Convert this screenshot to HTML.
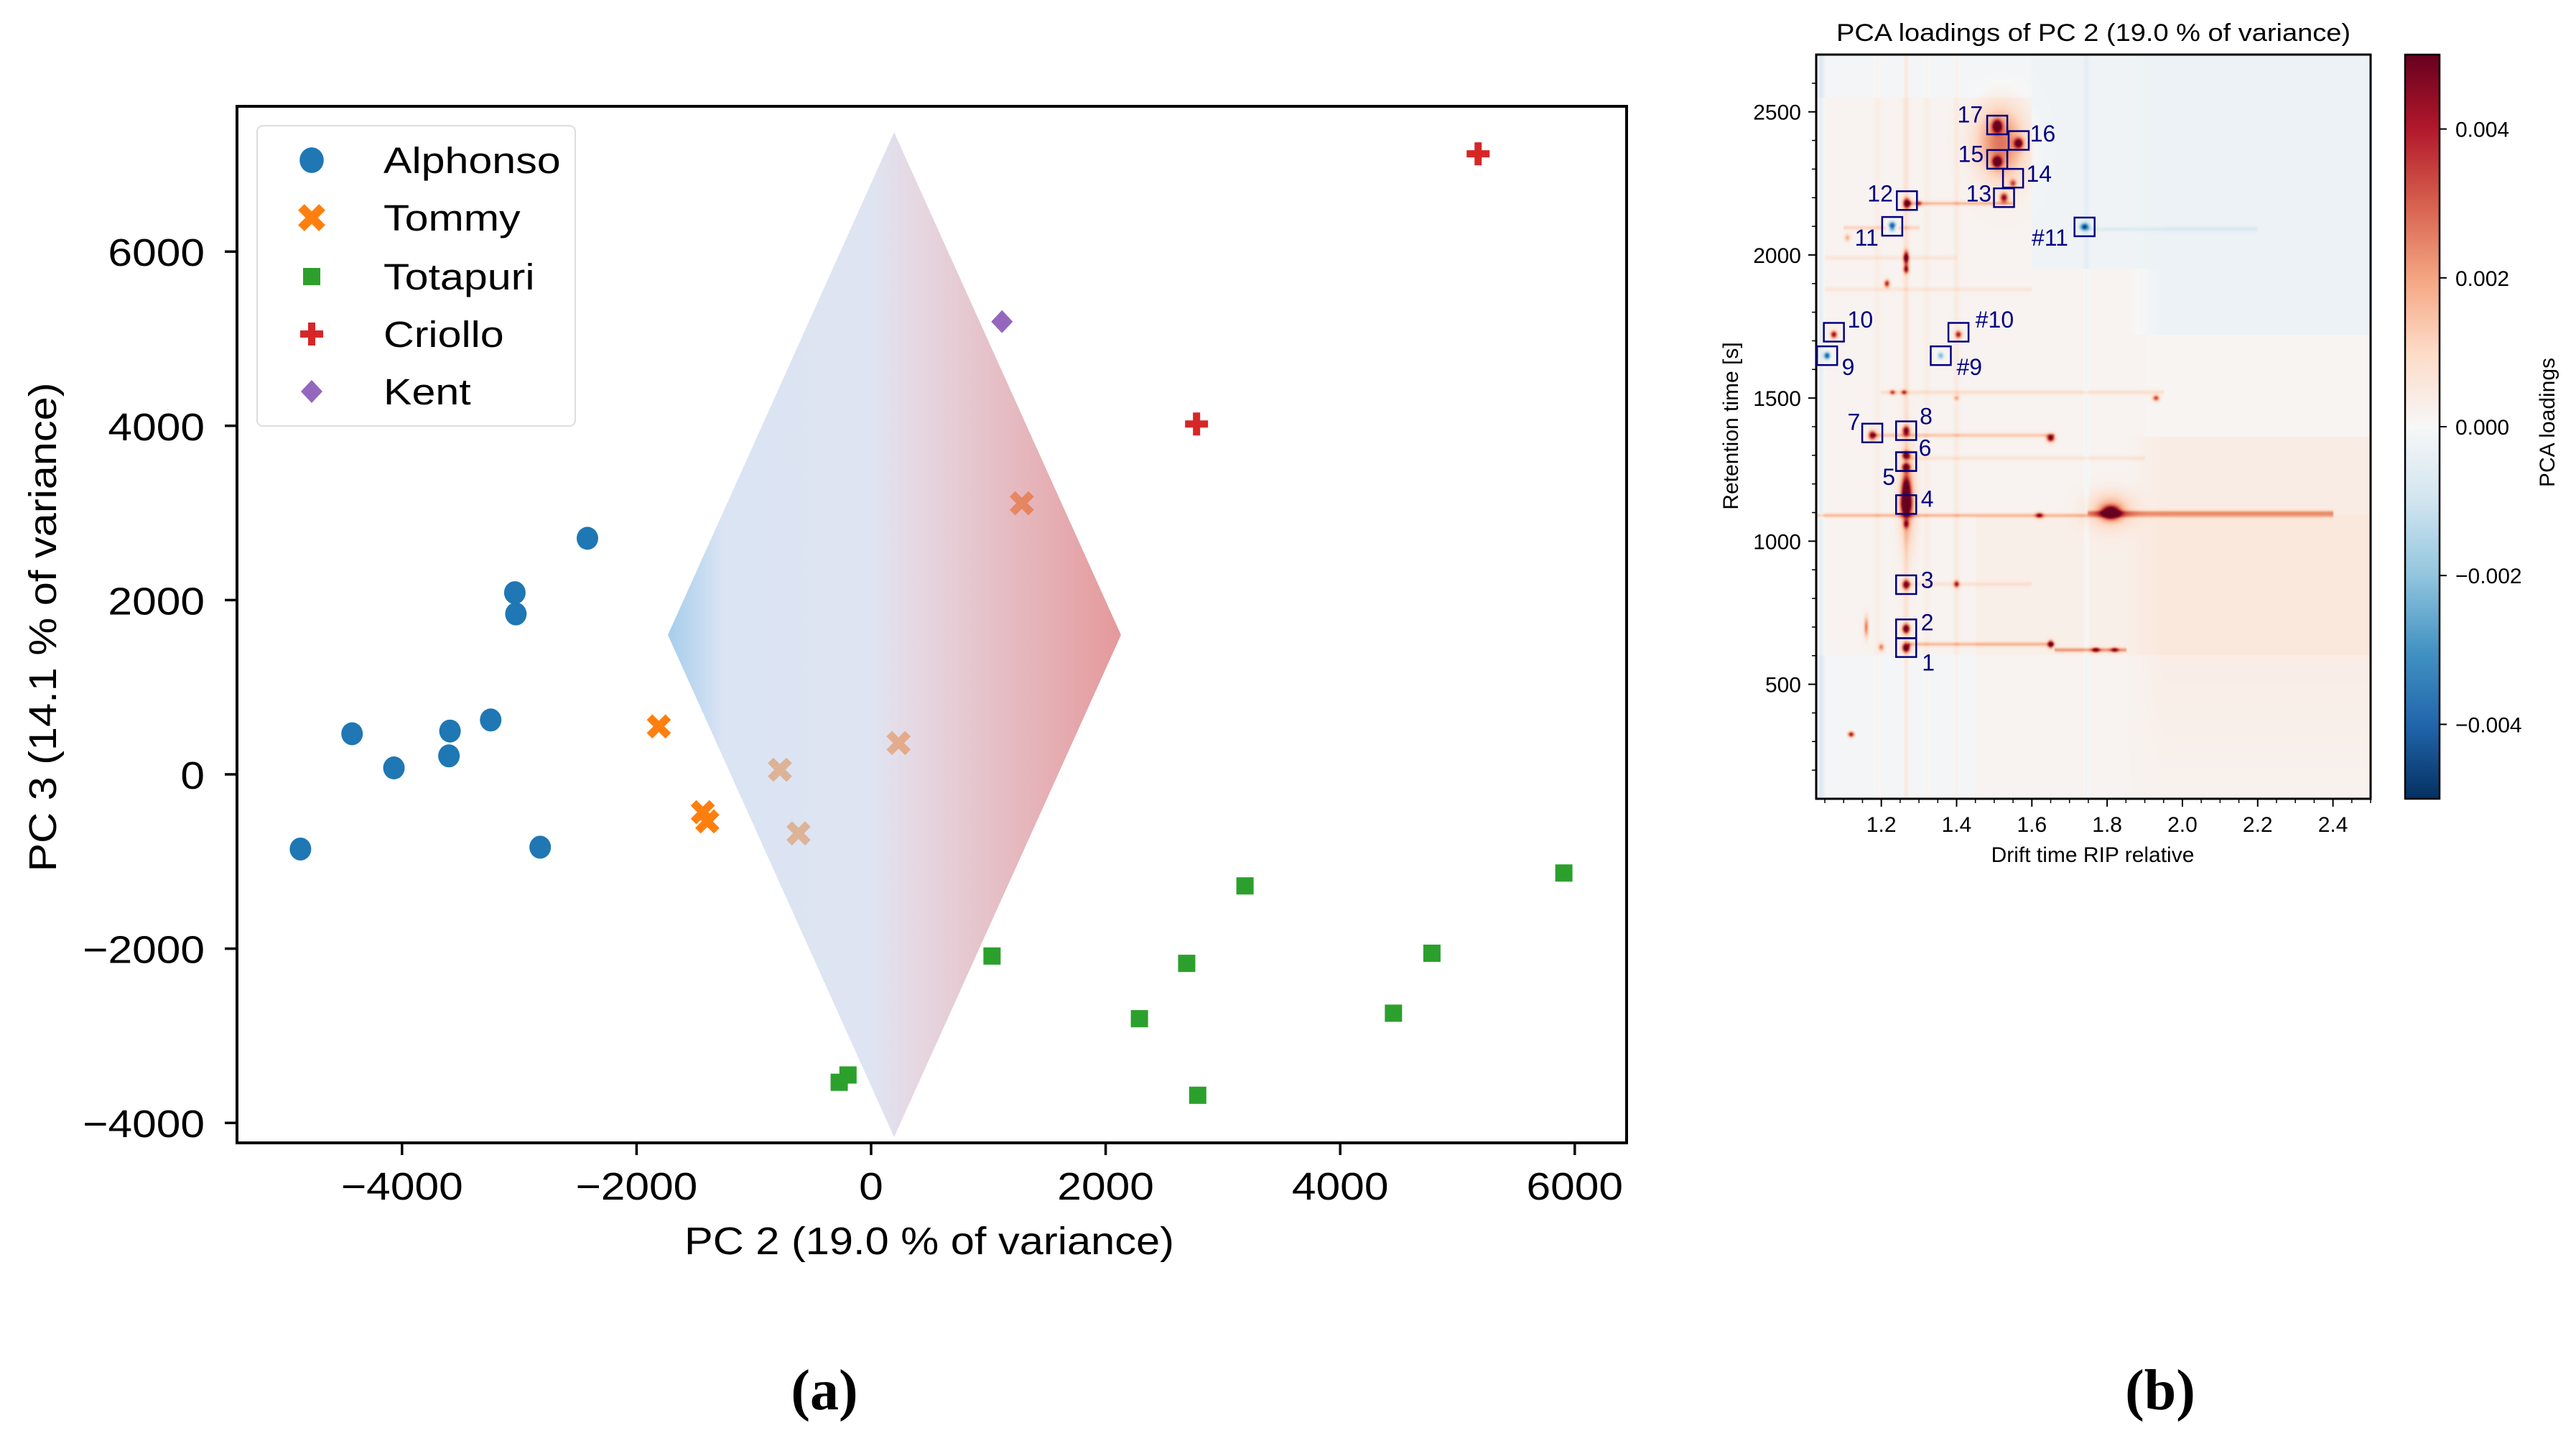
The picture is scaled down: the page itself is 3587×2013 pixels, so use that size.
<!DOCTYPE html>
<html><head><meta charset="utf-8"><style>
html,body{margin:0;padding:0;background:#fff;}
#wrap{position:relative;width:3587px;height:2013px;overflow:hidden;}
#hm{position:absolute;left:2529px;top:76px;width:772px;height:1036px;}
#svg{position:absolute;left:0;top:0;}
text{font-family:"Liberation Sans",sans-serif;}
</style></head><body>
<div id="wrap">
<canvas id="hm" width="386" height="518"></canvas>
<svg id="svg" width="3587" height="2013" xmlns="http://www.w3.org/2000/svg">
<defs>
<linearGradient id="dg" x1="0" x2="1" y1="0" y2="0">
<stop offset="0" stop-color="#6eaee0"/><stop offset="0.12" stop-color="#c3d3ec"/><stop offset="0.45" stop-color="#cbd4ea"/><stop offset="0.55" stop-color="#d6bfcf"/><stop offset="1" stop-color="#d55a5e"/>
</linearGradient>
<linearGradient id="cbg" x1="0" x2="0" y1="1" y2="0">
<stop offset="0" stop-color="#053061"/><stop offset="0.1" stop-color="#2166ac"/><stop offset="0.2" stop-color="#4393c3"/><stop offset="0.3" stop-color="#92c5de"/><stop offset="0.4" stop-color="#d1e5f0"/><stop offset="0.5" stop-color="#f7f7f7"/><stop offset="0.6" stop-color="#fddbc7"/><stop offset="0.7" stop-color="#f4a582"/><stop offset="0.8" stop-color="#d6604d"/><stop offset="0.9" stop-color="#b2182b"/><stop offset="1" stop-color="#67001f"/>
</linearGradient>
</defs>
<g id="left"></g>
<g id="right"></g>
<text x="1148" y="1962" font-size="80" font-weight="bold" text-anchor="middle" style="font-family:'Liberation Serif',serif">(a)</text>
<text x="3008" y="1962" font-size="80" font-weight="bold" text-anchor="middle" style="font-family:'Liberation Serif',serif">(b)</text>
</svg>
</div>
<script>
// ---------- Panel (a) data ----------
const groups = ["Alphonso","Tommy","Totapuri","Criollo","Kent"];
const groupColors = ["#1f77b4","#ff7f0e","#2ca02c","#d62728","#9467bd"];
const alphonsoX = [-4866,-4426,-4069,-3591,-3600,-3244,-3038,-3029,-2822,-2419];
const alphonsoY = [-857,466,74,497,212,624,2085,1841,-836,2709];
const tommyX = [-1810,-1435,-1397,-778,-619,234,1285];
const tommyY = [550,-434,-540,53,-677,360,3111];
const totapuriX = [-272,-197,1031,2288,2691,2785,3188,4454,4782,5907];
const totapuriY = [-3534,-3450,-2085,-2804,-2169,-3683,-1280,-2741,-2053,-1132];
const criolloX = [2775,5176];
const criolloY = [4021,7122];
const kentX = [1116];
const kentY = [5196];
const xTicks = [-4000,-2000,0,2000,4000,6000];
const yTicks = [-4000,-2000,0,2000,4000,6000];
const diamondX = [196,2131,196,-1733];
const diamondY = [7370,1600,-4163,1600];

// ---------- Panel (b) data ----------
const boxLabels = ["1","2","3","4","5","6","7","8","9","10","#9","#10","11","12","13","14","15","16","17","#11"];
const boxDrift = [1.266,1.266,1.266,1.266,1.266,1.266,1.176,1.266,1.056,1.074,1.358,1.405,1.229,1.268,1.526,1.550,1.508,1.565,1.508,1.740];
const boxRt = [628,694,848,1128,1278,1278,1378,1386,1648,1730,1648,1730,2100,2190,2200,2268,2334,2400,2454,2098];
const labelDrift = [1.325,1.322,1.322,1.322,1.220,1.316,1.127,1.319,1.112,1.144,1.434,1.501,1.161,1.197,1.459,1.619,1.438,1.629,1.436,1.648];
const labelRt = [576,716,864,1148,1224,1326,1416,1436,1608,1774,1608,1774,2060,2214,2214,2284,2352,2424,2490,2060];
const peakDrift = [1.266,1.266,1.266,1.266,1.266,1.266,1.176,1.266,1.056,1.074,1.358,1.405,1.229,1.268,1.526,1.550,1.508,1.565,1.508,1.740,
  1.81,1.65,1.65,1.77,1.82,1.93,1.62,1.266,1.266,1.215,1.12,1.40,1.266,1.266,1.20,1.16,1.30,1.23,1.26,1.40,1.11,1.50,1.27,1.81,1.53];
const peakRt = [628,694,848,1128,1258,1300,1370,1386,1648,1722,1648,1722,2100,2180,2200,2250,2325,2390,2450,2098,
  1100,1360,640,620,620,1500,1090,1990,1950,1900,325,850,1180,1060,630,700,2180,1520,1520,1500,2060,2400,1150,1110,2380];
const peakAmp = [1.2,1.1,1.0,1.3,1.0,1.0,1.0,0.9,-0.9,0.9,-0.5,0.8,-1.0,1.1,0.9,0.6,1.2,1.0,1.2,-0.9,
  1.3,1.0,1.0,0.7,0.6,0.7,0.7,1.0,0.8,0.8,0.9,0.7,0.9,0.6,0.5,0.5,0.5,0.6,0.6,0.35,0.35,0.25,0.35,0.35,0.3];
const peakSd = [0.007,0.007,0.007,0.009,0.007,0.007,0.007,0.007,0.006,0.006,0.006,0.006,0.007,0.007,0.007,0.006,0.008,0.008,0.008,0.008,
  0.015,0.007,0.005,0.007,0.007,0.006,0.007,0.005,0.005,0.005,0.006,0.005,0.008,0.005,0.005,0.004,0.005,0.005,0.005,0.005,0.005,0.04,0.015,0.04,0.04];
const peakSdRt = [11,11,11,25,9,9,11,11,9,9,9,9,11,12,11,9,12,12,14,9,
  14,9,9,6,6,7,7,16,10,9,7,9,30,10,9,25,7,6,6,6,9,80,120,40,90];
const streakRt = [1090,1100,2180,1370,640,620,1520,1290,2095,850,2090,1880,1990];
const streakD0 = [1.03,1.75,1.27,1.18,1.27,1.66,1.20,1.27,1.10,1.27,1.75,1.05,1.05];
const streakD1 = [2.40,2.40,1.55,1.66,1.66,1.85,1.95,1.90,1.30,1.60,2.20,1.60,1.40];
const streakAmp = [0.3,0.35,0.3,0.25,0.3,0.4,0.15,0.12,0.2,0.12,-0.1,0.1,0.1];
const vstreakDrift = [1.266,1.40,1.745,1.04,1.19,1.32];
const vstreakAmp = [0.12,0.06,-0.06,-0.12,0.04,0.04];
const cbTicks = [-0.004,-0.002,0,0.002,0.004];
const hxTicks = [1.2,1.4,1.6,1.8,2.0,2.2,2.4];
const hyTicks = [500,1000,1500,2000,2500];

const NS = "http://www.w3.org/2000/svg";
function mk(parent, tag, attrs){const e=document.createElementNS(NS,tag);for(const k in attrs)e.setAttribute(k,attrs[k]);parent.appendChild(e);return e;}

// ---------- Panel (a) ----------
const L = document.getElementById('left');
const xS = v => 1213 + v*0.16330;
const yS = v => 1078 - v*0.1213;
const AX0=330, AX1=2265, AY0=148, AY1=1591;

function marker(g, type, cx, cy, color, name, big){
  let e; const k = big?1.12:1;
  if(type===0){ e=mk(g,'ellipse',{cx:cx,cy:cy,rx:15*k,ry:16*k,fill:color}); }
  else if(type===1){ const a=13*k; e=mk(g,'path',{d:`M${cx-a},${cy-a}L${cx+a},${cy+a}M${cx+a},${cy-a}L${cx-a},${cy+a}`,stroke:color,'stroke-width':11*k,fill:'none'}); }
  else if(type===2){ e=mk(g,'rect',{x:cx-12,y:cy-12,width:24,height:24,fill:color}); }
  else if(type===3){ e=mk(g,'path',{d:`M${cx-16},${cy}L${cx+16},${cy}M${cx},${cy-16}L${cx},${cy+16}`,stroke:color,'stroke-width':10,fill:'none'}); }
  else { e=mk(g,'path',{d:`M${cx},${cy-16}L${cx+15},${cy}L${cx},${cy+16}L${cx-15},${cy}Z`,fill:color}); }
  
  
  return e;
}
const seriesX=[alphonsoX,tommyX,totapuriX,criolloX,kentX];
const seriesY=[alphonsoY,tommyY,totapuriY,criolloY,kentY];
for(let s=0;s<5;s++){
  const g=mk(L,'g',{});
  
  
  for(let i=0;i<seriesX[s].length;i++){
    marker(g,s,xS(seriesX[s][i]),yS(seriesY[s][i]),groupColors[s],groups[s].toLowerCase()+'-point',false);
  }
}
{
  let d='';
  for(let i=0;i<4;i++) d+=(i?'L':'M')+xS(diamondX[i])+','+yS(diamondY[i]);
  const p=mk(L,'path',{d:d+'Z',fill:'url(#dg)','fill-opacity':0.62});
  
  
}
{
  const r=mk(L,'rect',{x:AX0,y:AY0,width:AX1-AX0,height:AY1-AY0,fill:'none',stroke:'#000','stroke-width':4});
  
  
}
function stretch(t,f){try{const w=t.getComputedTextLength();t.setAttribute('textLength',w*f);t.setAttribute('lengthAdjust','spacingAndGlyphs');}catch(e){}}
function lab(v){return (v<0?'\u2212':'')+Math.abs(v);}
xTicks.forEach(v=>{
  const x=xS(v);
  const l=mk(L,'line',{x1:x,x2:x,y1:AY1,y2:AY1+17,stroke:'#000','stroke-width':3.5});
  
  
  const t=mk(L,'text',{x:x,y:1670,'font-size':54,'text-anchor':'middle'});
  t.textContent=lab(v);
  
  
  stretch(t,1.12);
});
yTicks.forEach(v=>{
  const y=yS(v);
  const l=mk(L,'line',{x1:AX0-17,x2:AX0,y1:y,y2:y,stroke:'#000','stroke-width':3.5});
  
  
  const t=mk(L,'text',{x:285,y:y+20,'font-size':54,'text-anchor':'end'});
  t.textContent=lab(v);
  
  
  stretch(t,1.12);
});
{
  const t=mk(L,'text',{x:1294,y:1746,'font-size':54,'text-anchor':'middle',textLength:682,lengthAdjust:'spacingAndGlyphs'});
  t.textContent='PC 2 (19.0 % of variance)';
  
  
  const t2=mk(L,'text',{x:0,y:0,'font-size':54,'text-anchor':'middle',textLength:681,lengthAdjust:'spacingAndGlyphs',transform:'translate(78,873) rotate(-90)'});
  t2.textContent='PC 3 (14.1 % of variance)';
  
  
}
{
  const g=mk(L,'g',{});
  
  
  mk(g,'rect',{x:358,y:175,width:443,height:418,rx:8,fill:'#fff','fill-opacity':0.85,stroke:'#dddddd','stroke-width':2});
  const rows=[223,303,385,465,545];
  for(let s=0;s<5;s++){
    marker(g,s,434,rows[s],groupColors[s],'legend-marker-'+groups[s].toLowerCase(),true);
    const t=mk(g,'text',{x:534,y:rows[s]+18,'font-size':51});
    t.textContent=groups[s];
    
    
    stretch(t,1.16);
  }
}

// ---------- Panel (b) ----------
const R=document.getElementById('right');
const HX0=2529,HX1=3301,HY0=76,HY1=1112;
const D0=1.027,D1=2.5,T0=100,T1=2700;
const hx=d=>HX0+(d-D0)/(D1-D0)*(HX1-HX0);
const hy=t=>HY1-(t-T0)/(T1-T0)*(HY1-HY0);
const stops=[[5,48,97],[33,102,172],[67,147,195],[146,197,222],[209,229,240],[247,247,247],[253,219,199],[244,165,130],[214,96,77],[178,24,43],[103,0,31]];
function cmap(v){v=Math.max(-1,Math.min(1,v));const f=(v+1)/2*10;const i=Math.min(9,Math.floor(f));const u=f-i;const a=stops[i],b=stops[i+1];return [a[0]+(b[0]-a[0])*u,a[1]+(b[1]-a[1])*u,a[2]+(b[2]-a[2])*u];}
function bg(d,t){
  let right;
  if(t>1720) right=-0.06; else if(t>1365) right=0.02; else if(t>1090) right=0.08; else if(t>600) right=0.11; else right=0.07-0.03*(600-t)/500;
  let left=0.03;
  if(t<600&&d<1.45) left=-0.02;
  if(t>2550) left=-0.02;
  if(d>1.6&&t>1950) left=-0.04;
  if(t>600&&t<1090&&d>1.45) left=0.06;
  const w=Math.max(0,Math.min(1,(d-1.85)/0.1));
  return left*(1-w)+right*w;
}
{
  const cv=document.getElementById('hm');const ctx=cv.getContext('2d');
  const W=cv.width,H=cv.height;const img=ctx.createImageData(W,H);
  for(let py=0;py<H;py++){
    const t=T1-(py+0.5)/H*(T1-T0);
    for(let px=0;px<W;px++){
      const d=D0+(px+0.5)/W*(D1-D0);
      let v=bg(d,t);
      for(let k=0;k<peakDrift.length;k++){
        const a=(d-peakDrift[k])/peakSd[k], b=(t-peakRt[k])/peakSdRt[k];
        const q=a*a+b*b; if(q<30) v+=peakAmp[k]*Math.exp(-q/2);
      }
      for(let k=0;k<streakRt.length;k++){
        if(d>=streakD0[k]&&d<=streakD1[k]){const b=(t-streakRt[k])/5;if(b*b<30)v+=streakAmp[k]*Math.exp(-b*b/2);}
      }
      for(let k=0;k<vstreakDrift.length;k++){
        const a=(d-vstreakDrift[k])/0.005;if(a*a<30)v+=vstreakAmp[k]*Math.exp(-a*a/2);
      }
      const c=cmap(v);const o=(py*W+px)*4;
      img.data[o]=c[0];img.data[o+1]=c[1];img.data[o+2]=c[2];img.data[o+3]=255;
    }
  }
  ctx.putImageData(img,0,0);
}
{
  const r=mk(R,'rect',{x:HX0,y:HY0,width:HX1-HX0,height:HY1-HY0,fill:'none',stroke:'#000','stroke-width':3});
  
  
}
for(let i=0;i<boxLabels.length;i++){
  const b=mk(R,'rect',{x:hx(boxDrift[i])-14,y:hy(boxRt[i])-13,width:28,height:26,fill:'none',stroke:'#000080','stroke-width':2.5});
  
  
  const t=mk(R,'text',{x:hx(labelDrift[i]),y:hy(labelRt[i])+11,'font-size':32,'text-anchor':'middle',fill:'#000080'});
  t.textContent=boxLabels[i];
  
  
}
hxTicks.forEach(v=>{
  const x=hx(v);
  const l=mk(R,'line',{x1:x,x2:x,y1:HY1,y2:HY1+11,stroke:'#000','stroke-width':2});
  
  
  const t=mk(R,'text',{x:x,y:1158,'font-size':30,'text-anchor':'middle'});
  t.textContent=v.toFixed(1);
  
  
});
for(let v=1.05;v<2.5;v+=0.05){
  if(Math.abs(v*5-Math.round(v*5))<1e-6) continue;
  const x=hx(v);
  const l=mk(R,'line',{x1:x,x2:x,y1:HY1,y2:HY1+6,stroke:'#000','stroke-width':1.5});
  
  
}
hyTicks.forEach(v=>{
  const y=hy(v);
  const l=mk(R,'line',{x1:HX0-11,x2:HX0,y1:y,y2:y,stroke:'#000','stroke-width':2});
  
  
  const t=mk(R,'text',{x:2508,y:y+11,'font-size':30,'text-anchor':'end'});
  t.textContent=v;
  
  
});
for(let v=200;v<=2600;v+=100){
  if(v%500===0) continue;
  const y=hy(v);
  const l=mk(R,'line',{x1:HX0-6,x2:HX0,y1:y,y2:y,stroke:'#000','stroke-width':1.5});
  
  
}
{
  const t=mk(R,'text',{x:2915,y:57,'font-size':34,'text-anchor':'middle',textLength:716,lengthAdjust:'spacingAndGlyphs'});
  t.textContent='PCA loadings of PC 2 (19.0 % of variance)';
  
  
  const xl=mk(R,'text',{x:2914,y:1200,'font-size':30,'text-anchor':'middle'});
  xl.textContent='Drift time RIP relative';
  
  
  const yl=mk(R,'text',{x:0,y:0,'font-size':30,'text-anchor':'middle',transform:'translate(2420,593) rotate(-90)'});
  yl.textContent='Retention time [s]';
  
  
}
{
  const CB0=76,CB1=1112;const cy=v=>(CB0+CB1)/2 - v/0.005*(CB1-CB0)/2;
  const r=mk(R,'rect',{x:3349,y:CB0,width:48,height:CB1-CB0,fill:'url(#cbg)',stroke:'#000','stroke-width':2.5});
  
  
  cbTicks.forEach(v=>{
    const y=cy(v);
    const l=mk(R,'line',{x1:3397,x2:3407,y1:y,y2:y,stroke:'#000','stroke-width':2});
    
    
    const t=mk(R,'text',{x:3419,y:y+11,'font-size':30});
    t.textContent=(v<0?'\u2212':'')+Math.abs(v).toFixed(3);
    
    
  });
  const t=mk(R,'text',{x:0,y:0,'font-size':30,'text-anchor':'middle',transform:'translate(3557,588) rotate(-90)'});
  t.textContent='PCA loadings';
  
  
}
</script>
</body></html>
